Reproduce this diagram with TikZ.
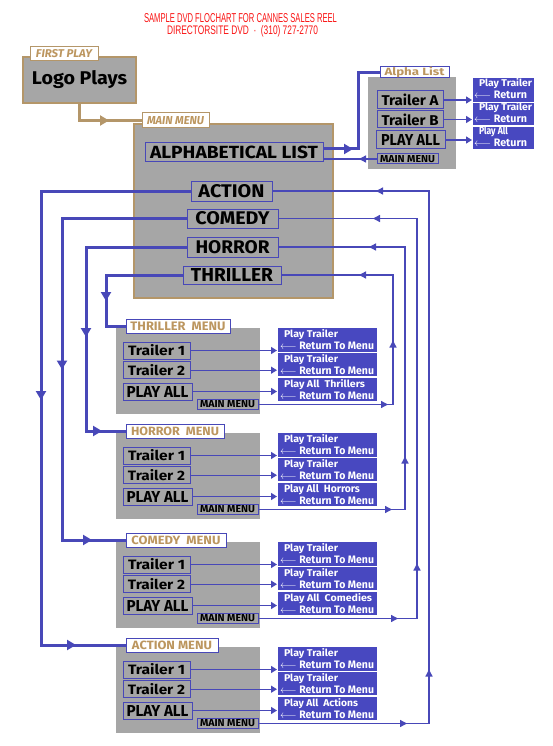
\documentclass[tikz,border=0pt]{standalone}
\usepackage{fontspec}
\usepackage{graphicx}
\setmainfont{Fira Sans}
\newfontfamily\titlefont{Liberation Sans}
\usetikzlibrary{arrows.meta,decorations.markings}
\definecolor{ablue}{RGB}{72,72,184}
\definecolor{bfill}{RGB}{72,72,192}
\definecolor{pgray}{RGB}{166,166,166}
\definecolor{ptan}{RGB}{180,150,105}
\definecolor{ltan}{RGB}{188,150,95}
\definecolor{tred}{RGB}{250,20,20}
\newcommand\fit[3]{\resizebox{#1pt}{#2pt}{#3}}
\tikzset{
 panel/.style={fill=pgray, draw=none, inner sep=0pt, outer sep=0pt},
 tanpanel/.style={panel, draw=ptan, line width=1.2pt},
 btn/.style={draw=ablue, line width=1pt, inner sep=0pt, outer sep=0pt, font=\bfseries, text=black},
 lbl/.style={fill=white, draw=ablue, line width=1pt, inner sep=0pt, outer sep=0pt, text=ltan, font=\bfseries},
 tlbl/.style={lbl, draw=ptan},
 bbox/.style={fill=bfill, draw=none, inner sep=0pt, outer sep=0pt},
 wtxt/.style={text=white, font=\bfseries, inner sep=0pt, outer sep=0pt, anchor=base west},
 ttl/.style={anchor=base, inner sep=0pt, text=tred, font=\titlefont},
 thk/.style={draw=ablue, line width=3pt},
 thn/.style={draw=ablue, line width=1.3pt},
 tanl/.style={draw=ptan, line width=2.6pt},
 tip/.style={-{Triangle[length=6pt,width=7pt]}, shorten >=1pt},
 mk/.style={postaction={decorate,decoration={markings,mark=at position #1 with {\arrow{Triangle[length=9pt,width=10pt]}}}}},
 mks/.style={postaction={decorate,decoration={markings,mark=at position #1 with {\arrow{Triangle[length=7pt,width=7pt]}}}}},
}
% #1 prefix, #2 top of gray panel, #3 label text, #4 label width, #5 label text width, #6 play-all text, #7 its width
\newcommand\MENU[7]{%
 \node[panel, minimum width=144pt, minimum height=86pt] (#1p) at (188,{#2+43}) {};
 \node[lbl, minimum width=#4pt, minimum height=14pt] (#1l) at ({126+#4/2},{#2-2}) {\fit{#5}{8.5}{#3}};
 \node[btn, minimum width=67pt, minimum height=17pt] (#1t1) at (156.5,{#2+22.5}) {\fit{57}{11}{Trailer 1}};
 \node[btn, minimum width=67pt, minimum height=16.5pt] (#1t2) at (156.5,{#2+42.2}) {\fit{57}{11}{Trailer 2}};
 \node[btn, minimum width=69pt, minimum height=17pt] (#1pa) at (157.5,{#2+63.5}) {\fit{62}{11}{PLAY ALL}};
 \node[btn, minimum width=61pt, minimum height=9.5pt] (#1mm) at (227.5,{#2+76.5}) {\fit{55}{7}{MAIN MENU}};
 \node[bbox, minimum width=99pt, minimum height=24pt] (#1b1) at (327.5,{#2+12}) {};
 \node[bbox, minimum width=99pt, minimum height=23pt] (#1b2) at (327.5,{#2+36.5}) {};
 \node[bbox, minimum width=99pt, minimum height=23pt] (#1b3) at (327.5,{#2+61.5}) {};
 \node[wtxt] (#1b1x) at (284,{#2+9.5}) {\fit{54}{8}{Play Trailer}};
 \node[wtxt] (#1b1y) at (280,{#2+21.5}) {\fit{94}{7.5}{$\longleftarrow$ Return To Menu}};
 \node[wtxt] (#1b2x) at (284,{#2+34.5}) {\fit{54}{8}{Play Trailer}};
 \node[wtxt] (#1b2y) at (280,{#2+46.5}) {\fit{94}{7.5}{$\longleftarrow$ Return To Menu}};
 \node[wtxt] (#1b3x) at (284,{#2+59.5}) {\fit{#7}{8}{#6}};
 \node[wtxt] (#1b3y) at (280,{#2+71.5}) {\fit{94}{7.5}{$\longleftarrow$ Return To Menu}};
 \draw[thn, tip] (#1t1.east) -- (#1t1.east -| #1b1.west);
 \draw[thn, tip] (#1t2.east) -- (#1t2.east -| #1b2.west);
 \draw[thn, tip] (#1pa.east) -- (#1pa.east -| #1b3.west);
}
\begin{document}
\begin{tikzpicture}[x=1pt,y=-1pt]
\fill[white] (0,0) rectangle (553,746);
\useasboundingbox (0,0) rectangle (553,746);

% title
\node[ttl] (title1) at (240.5,23) {\fit{193}{9}{SAMPLE DVD FLOCHART FOR CANNES SALES REEL}};
\node[ttl] (title2) at (242.5,34.5) {\fit{151}{9}{DIRECTORSITE DVD\ \ ·\ \ (310) 727-2770}};

% first play
\node[tanpanel, minimum width=113pt, minimum height=46pt, font=\bfseries] (logo) at (79.5,80) {\fit{95}{14}{Logo Plays}};
\node[tlbl, minimum width=68pt, minimum height=14pt] (fpl) at (64,54) {\fit{56}{8}{\itshape FIRST PLAY}};

% main menu
\node[tanpanel, minimum width=199pt, minimum height=174pt] (mm) at (233.5,211) {};
\node[tlbl, minimum width=67pt, minimum height=15pt] (mml) at (175.5,120.5) {\fit{57}{8}{\itshape MAIN MENU}};
\draw[tanl, mk=47pt] (logo.south) |- (mml.west);

% alpha list group
\node[panel, minimum width=88pt, minimum height=92pt] (ap) at (412,123) {};
\node[bbox, minimum width=61pt, minimum height=24pt] (ab1) at (503.5,90) {};
\node[bbox, minimum width=61pt, minimum height=22pt] (ab2) at (503.5,114) {};
\node[bbox, minimum width=61pt, minimum height=22pt] (ab3) at (503.5,138) {};
\node[wtxt] (ab1x) at (479,87) {\fit{53}{8}{Play Trailer}};
\node[wtxt] (ab1y) at (474,99) {\fit{53}{7.5}{$\longleftarrow$ Return}};
\node[wtxt] (ab2x) at (479,111) {\fit{53}{8}{Play Trailer}};
\node[wtxt] (ab2y) at (474,123) {\fit{53}{7.5}{$\longleftarrow$ Return}};
\node[wtxt] (ab3x) at (479,135) {\fit{29}{8}{Play All}};
\node[wtxt] (ab3y) at (474,147) {\fit{53}{7.5}{$\longleftarrow$ Return}};

% menus
\MENU{th}{328}{THRILLER\ \ MENU}{104}{95}{Play All\ \ Thrillers}{81}
\MENU{ho}{433}{HORROR\ \ MENU}{98}{88}{Play All\ \ Horrors}{76}
\MENU{co}{542}{COMEDY\ \ MENU}{100}{89}{Play All\ \ Comedies}{88}
\MENU{ac}{647}{ACTION MENU}{92}{80}{Play All\ \ Actions}{74}

% main menu buttons
\node[btn, minimum width=178pt, minimum height=19pt] (alph) at (234,152.5) {\fit{168}{12.5}{ALPHABETICAL LIST}};
\node[btn, minimum width=81pt, minimum height=20pt] (action) at (231.5,191) {\fit{66}{13}{ACTION}};
\node[btn, minimum width=91pt, minimum height=19pt] (comedy) at (232.5,218.5) {\fit{74}{13}{COMEDY}};
\node[btn, minimum width=91pt, minimum height=20pt] (horror) at (232.5,247) {\fit{74}{13}{HORROR}};
\node[btn, minimum width=98pt, minimum height=18pt] (thriller) at (232,275) {\fit{82}{13}{THRILLER}};

% alpha buttons
\node[lbl, minimum width=69pt, minimum height=11pt] (al) at (414.5,72.5) {\fit{60}{8.5}{Alpha List}};
\node[btn, minimum width=66pt, minimum height=18pt] (ta) at (410,100) {\fit{57}{11.5}{Trailer A}};
\node[btn, minimum width=66pt, minimum height=17pt] (tb) at (410,119.5) {\fit{57}{11.5}{Trailer B}};
\node[btn, minimum width=69pt, minimum height=18pt] (apa) at (410.5,140) {\fit{59}{11}{PLAY ALL}};
\node[btn, minimum width=61pt, minimum height=10pt] (amm) at (407.5,159) {\fit{55}{7}{MAIN MENU}};

% alpha connectors
\draw[thk, mk=30pt] ([yshift=3.5pt]alph.east) -- ++(35,0) |- (al.west);
\draw[thn, mks=18pt] (amm.west) -- (amm.west -| alph.east);
\draw[thn, tip] (ta.east) -- (ta.east -| ab1.west);
\draw[thn, tip] (tb.east) -- (tb.east -| ab2.west);
\draw[thn, tip] (apa.east) -- (apa.east -| ab3.west);

% genre connectors (thick)
\draw[thk, mk=103pt] (thriller.west) -- ++(-77,0) |- (thl.west);
\draw[thk, mk=191pt, mk=-24pt] (horror.west) -- ++(-101,0) |- (hol.west);
\draw[thk, mk=276pt, mk=-34pt] (comedy.west) -- ++(-125,0) |- (col.west);
\draw[thk, mk=359pt, mk=-50pt] (action.west) -- ++(-150,0) |- (acl.west);

% return connectors (thin)
\draw[thn, mks=130pt, mks=199pt, mks=-78pt] (thmm.east) -- ++(135,0) |- (thriller.east);
\draw[thn, mks=134pt, mks=200pt, mks=-91pt] (homm.east) -- ++(147,0) |- (horror.east);
\draw[thn, mks=140pt, mks=214pt, mks=-95pt] (comm.east) -- ++(159,0) |- (comedy.east);
\draw[thn, mks=149pt, mks=225pt, mks=-104pt] (acmm.east) -- ++(171,0) |- (action.east);
\end{tikzpicture}
\end{document}
